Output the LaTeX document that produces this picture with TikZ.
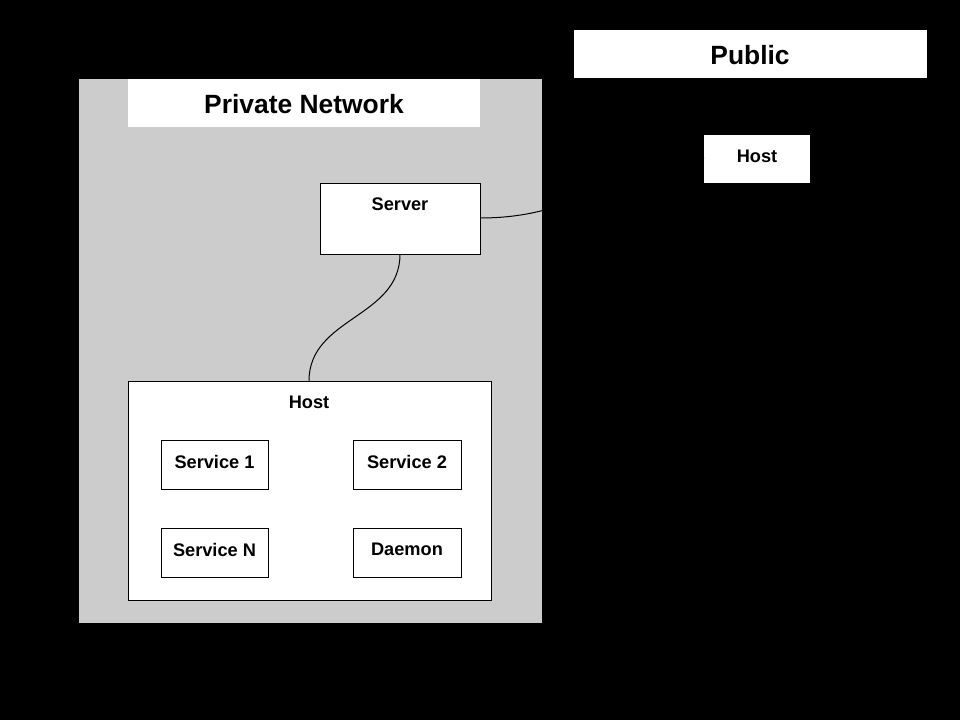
\documentclass[tikz,border=0pt]{standalone}
\usepackage{fontspec}
\setmainfont{Liberation Sans}
\begin{document}
\begin{tikzpicture}[x=1pt,y=-1pt,
  box/.style={draw=black,line width=1pt,fill=white},
  label/.style={font=\bfseries\fontsize{18.2}{21}\selectfont,text=black,inner sep=0pt},
  title/.style={font=\bfseries\fontsize{26.4}{30}\selectfont,text=black,inner sep=0pt},
  link/.style={draw=black,line width=1pt}]
\useasboundingbox (0,0) rectangle (960,720);
\fill[black] (0,0) rectangle (960,720);
% private network panel
\fill[fill={rgb,255:red,204;green,204;blue,204}] (79,79) rectangle (542,623);
\fill[white] (128,79) rectangle (480,127);
\node[title] (privt) at (304,104) {Private Network};
% public
\fill[white] (574,30) rectangle (927,78);
\node[title] (pubt) at (750,55) {Public};
\fill[white] (704,135) rectangle (810,183);
\coordinate (pubhostw) at (704,158);
\node[label] (pubhost) at (757,156) {Host};
% server
\draw[box] (320,183) rectangle (480,254);
\coordinate (servs) at (400,254);
\coordinate (serve) at (480,218);
\node[label] (server) at (400,204) {Server};
% host
\draw[box] (128,381) rectangle (491,600);
\coordinate (hostn) at (309,381);
\node[label] (host) at (309,402) {Host};
\draw[box] (161,440) rectangle (268,489);
\node[label] (s1) at (214.5,461.5) {Service 1};
\draw[box] (353,440) rectangle (461,489);
\node[label] (s2) at (407,461.5) {Service 2};
\draw[box] (161,528) rectangle (268,577);
\node[label] (sn) at (214.5,549.5) {Service N};
\draw[box] (353,528) rectangle (461,577);
\node[label] (dm) at (407,549.5) {Daemon};
% connectors
\draw[link] (servs) .. controls (400,318) and (309,317) .. (hostn);
\draw[link] (serve) .. controls (590,218) and (620,158) .. (pubhostw);
\end{tikzpicture}
\end{document}
